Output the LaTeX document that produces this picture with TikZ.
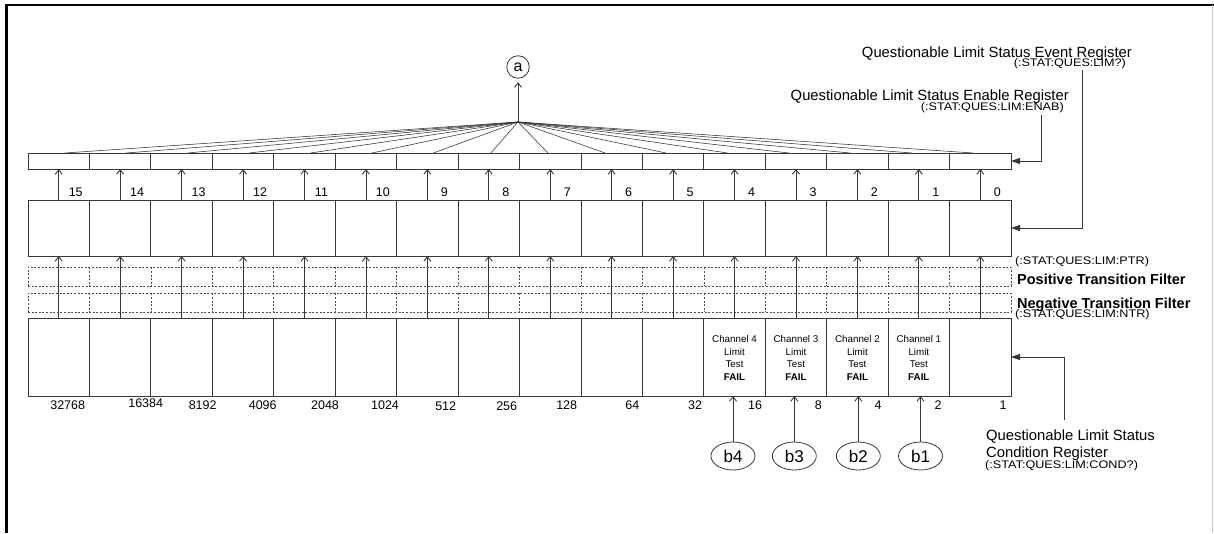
\documentclass[tikz,border=0pt]{standalone}
\usepackage{fontspec}
\setmainfont{Liberation Sans}
\newfontfamily\cmdfont[FakeStretch=1.15]{Liberation Sans}
\usetikzlibrary{arrows.meta,shapes.geometric,calc}
\begin{document}
\begin{tikzpicture}[x=1pt,y=-1pt,
  lc/.style={draw=black!78,line width=0.8pt},
  regcell/.style={rectangle,lc,minimum width=61.4375pt,inner sep=0pt,outer sep=0pt},
  encell/.style={regcell,minimum height=16pt},
  evcell/.style={regcell,minimum height=56pt},
  cdcell/.style={regcell,minimum height=78pt},
  dashrow/.style={rectangle,draw=black!70,line width=0.6pt,dash pattern=on 2pt off 1.6pt,minimum width=983pt,minimum height=18.8pt,inner sep=0pt,outer sep=0pt},
  dsh/.style={draw=black!70,line width=0.6pt,dash pattern=on 2pt off 1.6pt},
  barb/.style={lc,-{Straight Barb[length=4.5pt,width=7pt,line width=0.9pt]}},
  ptr/.style={lc,-{Triangle[length=9pt,width=6pt]}},
  fanln/.style={draw=black!80,line width=0.55pt},
  biglbl/.style={inner sep=0pt,font=\fontsize{14.8}{16}\selectfont},
  cmdlbl/.style={inner sep=0pt,font=\cmdfont\fontsize{11}{12}\selectfont},
  fltlbl/.style={inner sep=0pt,font=\bfseries\fontsize{14.5}{16}\selectfont},
  numlbl/.style={inner sep=0pt,font=\fontsize{12.5}{14}\selectfont},
  chlbl/.style={inner sep=0pt,align=center,font=\fontsize{9.8}{12.8}\selectfont},
  ell/.style={ellipse,lc,minimum width=44pt,minimum height=28pt,inner sep=0pt,font=\fontsize{17}{17}\selectfont}
]
\useasboundingbox (0,0) rectangle (1214,533);
% frame
\draw[line width=3pt] (6.5,533) -- (6.5,4.5);
\draw[line width=2pt] (5,4.5) -- (1214,4.5);
\draw[gray!45,line width=0.8pt] (1212.5,4.5) -- (1212.5,533);

% registers
\foreach \b in {0,...,15}{
  \pgfmathsetmacro\xc{28+(15-\b+0.5)*61.4375}
  \node[encell] (en\b) at (\xc,161) {};
  \node[evcell] (ev\b) at (\xc,228) {};
  \node[cdcell] (cd\b) at (\xc,357) {};
  \node[numlbl,anchor=base] (bit\b) at (\xc+17,196.5) {\b};
}
% filters
\node[dashrow] (ptrrow) at (519.5,276.7) {};
\node[dashrow] (ntrrow) at (519.5,302.8) {};
\foreach \i in {1,...,15}{
  \pgfmathsetmacro\xs{28+\i*61.4375}
  \draw[dsh] (ptrrow.north -| \xs,0) -- (ptrrow.south -| \xs,0);
  \draw[dsh] (ntrrow.north -| \xs,0) -- (ntrrow.south -| \xs,0);
}

% apex and summary bit
\coordinate (apex) at (518,122);
\node[circle,lc,minimum size=22.5pt,inner sep=0pt,font=\fontsize{16}{16}\selectfont] (a) at (518,67) {a};
\draw[barb,shorten >=3.5pt] (apex) -- (a);

\foreach \b in {0,...,15}{
  \pgfmathsetmacro\xc{28+(15-\b+0.5)*61.4375}
  \pgfmathsetmacro\off{max(-7,min(6,-(\xc-518)*0.07))}
  \draw[barb] (cd\b.north) -- (ev\b.south);
  \draw[barb] (ev\b.north) -- (en\b.south);
  \draw[fanln] ($(en\b.north)+(\off,0)$) -- (apex);
}

% weights
\foreach \b/\w/\x/\y in {0/1/1003/405,1/2/938/405,2/4/878/405,3/8/818.3/405,4/16/755/405,5/32/695/405,6/64/632.3/405,7/128/566.7/405,8/256/506.7/406,9/512/445.7/406,10/1024/385/405,11/2048/325/405,12/4096/262.7/405,13/8192/202.7/405,14/16384/145.7/403,15/32768/67.7/405}{
  \node[numlbl,anchor=base] (w\b) at (\x,\y+4.5) {\w};
}

% channel texts
\foreach \b/\c in {4/4,3/3,2/2,1/1}{
  \node[chlbl,anchor=north] (ch\b) at ($(cd\b.north)+(0,17)$) {Channel \c\\Limit\\Test\\\textbf{FAIL}};
}

% b ellipses
\foreach \c/\x in {4/733,3/794.3,2/858.3,1/920.5}{
  \node[ell] (b\c) at (\x,456) {b\c};
  \draw[barb] (b\c.north) -- (b\c.north |- cd\c.south);
}

% right labels
\node[biglbl,anchor=base east] (evlbl) at (1132,57.3) {Questionable Limit Status Event Register};
\node[cmdlbl,anchor=base east] (evcmd) at (1126,66.8) {(:STAT:QUES:LIM?)};
\coordinate (evc) at (1082,70);
\draw[ptr] (evc) |- (ev0.east);

\node[biglbl,anchor=base east] (enlbl) at (1069,100.3) {Questionable Limit Status Enable Register};
\node[cmdlbl,anchor=base east] (encmd) at (1064,110.3) {(:STAT:QUES:LIM:ENAB)};
\coordinate (enc) at (1041,115);
\draw[ptr] (enc) |- (en0.east);

\node[cmdlbl,anchor=base west] (ptrcmd) at (1015,264.3) {(:STAT:QUES:LIM:PTR)};
\node[fltlbl,anchor=base west] (ptrlbl) at (1017,284.2) {Positive Transition Filter};
\node[fltlbl,anchor=base west] (ntrlbl) at (1017,308.2) {Negative Transition Filter};
\node[cmdlbl,anchor=base west] (ntrcmd) at (1015,317.8) {(:STAT:QUES:LIM:NTR)};

\coordinate (cdc) at (1064,420);
\draw[ptr] (cdc) |- (cd0.east);
\node[biglbl,anchor=base west] (cdlbl1) at (986,440.4) {Questionable Limit Status};
\node[biglbl,anchor=base west] (cdlbl2) at (986,457.4) {Condition Register};
\node[cmdlbl,anchor=base west] (cdcmd) at (985,468.8) {(:STAT:QUES:LIM:COND?)};
\end{tikzpicture}
\end{document}
